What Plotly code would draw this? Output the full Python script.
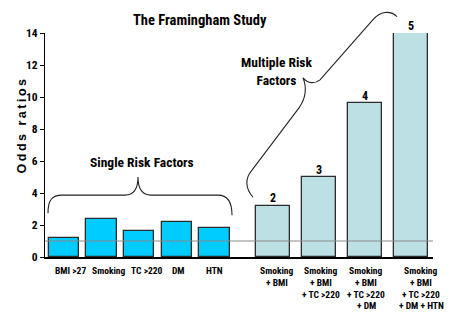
import plotly.graph_objects as go

# ---------------- data ----------------
single_labels = ["BMI >27", "Smoking", "TC >220", "DM", "HTN"]
single_values = [1.2, 2.4, 1.6, 2.2, 1.8]

multi_labels = [
    ["Smoking", "+ BMI"],
    ["Smoking", "+ BMI", "+ TC >220"],
    ["Smoking", "+ BMI", "+ TC >220", "+ DM"],
    ["Smoking", "+ BMI", "+ TC >220", "+ DM + HTN"],
]
multi_values = [3.2, 5.0, 9.6, 14.0]
multi_counts = ["2", "3", "4", "5"]

reference_value = 1.0
y_ticks = [0, 2, 4, 6, 8, 10, 12, 14]

title_text = "The Framingham Study"
y_title = "Odds ratios"
single_group_text = "Single Risk Factors"
multi_group_text = "Multiple Risk<br>Factors"

# ---------------- layout geometry (pixels) ----------------
W, H = 454, 313
L, R, T, B = 45, 21, 33.3, 56.3
X0, X1 = 45, 433
plot_h = H - T - B

def px(x):
    return (x - X0) / (X1 - X0)

def py(y):
    return (H - B - y) / plot_h

single_x = [64 + 37.6 * i for i in range(len(single_values))]
single_label_x = [70.5, 108.5, 146.5, 178, 214]
multi_x = [272.5 + 46 * i for i in range(len(multi_values))]
multi_label_x = [277, 321, 366, 421]

FONT = "Roboto Condensed, Liberation Sans, Arial, sans-serif"

fig = go.Figure()
fig.add_trace(go.Bar(
    x=single_x, y=single_values, width=30.5,
    marker=dict(color="#00CCFF", line=dict(color="#2b2b2b", width=1.3)),
    hoverinfo="skip", showlegend=False,
))
fig.add_trace(go.Bar(
    x=multi_x, y=multi_values, width=34,
    marker=dict(color="#BCE0E4", line=dict(color="#2b2b2b", width=1.3)),
    hoverinfo="skip", showlegend=False,
))

shapes = []
shapes.append(dict(type="line", xref="x", yref="y", x0=X0, x1=X1,
                   y0=reference_value, y1=reference_value,
                   line=dict(color="#8a8a8a", width=1), layer="above"))

def to_path(cmds):
    out = []
    for c in cmds:
        if isinstance(c, str):
            out.append(c)
        else:
            out.append(f"{px(c[0]):.5f},{py(c[1]):.5f}")
    return " ".join(out)

single_brace = ["M", (48, 213), "C", (48, 200), (52, 195), (62, 195),
                "L", (125, 195), "C", (133, 195), (138, 190), (138, 177),
                "C", (138, 190), (143, 195), (151, 195),
                "L", (218, 195), "C", (228, 195), (232, 203), (232, 215)]
multi_brace = ["M", (253, 197), "C", (245, 188), (245, 178), (252, 170),
               "L", (299, 108), "C", (306, 98), (307, 88), (303, 78),
               "C", (308, 84), (315, 84), (320, 80),
               "L", (373, 20), "C", (380, 12), (390, 10), (397, 17)]
for p in (single_brace, multi_brace):
    shapes.append(dict(type="path", xref="paper", yref="paper", path=to_path(p),
                       line=dict(color="#222", width=1.1)))

annotations = []

def add_text(text, x, y, size, family=FONT, angle=0):
    annotations.append(dict(text=text, xref="paper", yref="paper",
                            x=px(x), y=py(y), xanchor="center", yanchor="middle",
                            showarrow=False, textangle=angle,
                            font=dict(family=family, size=size, color="black", weight="bold")))

add_text(title_text, 200, 21, 14.5)
add_text(single_group_text, 142, 162, 13.5)
add_text(multi_group_text, 276, 71.5, 13.5)
add_text("\u2009".join(y_title), 22, 126.5, 12.5,
         family="Liberation Sans, Arial, sans-serif", angle=-90)

# count labels above the multi-factor bars
for xv, yv, t in zip(multi_x, multi_values, multi_counts):
    annotations.append(dict(text=t, xref="x", yref="y", x=xv, y=yv,
                            xanchor="center", yanchor="bottom", yshift=-1.5,
                            showarrow=False,
                            font=dict(family=FONT, size=12, color="black", weight="bold")))

for lab, x in zip(single_labels, single_label_x):
    add_text(lab, x, 270.5, 9.5)
line_step = 11.6
for lines, x in zip(multi_labels, multi_label_x):
    for k, ln in enumerate(lines):
        add_text(ln, x, 270.5 + k * line_step, 9.5)

fig.update_layout(
    width=W, height=H,
    margin=dict(l=L, r=R, t=T, b=B),
    plot_bgcolor="white", paper_bgcolor="white",
    shapes=shapes, annotations=annotations,
    bargap=0,
    xaxis=dict(range=[X0, X1], showgrid=False, zeroline=False, showticklabels=False,
               ticks="", showline=True, linecolor="black", linewidth=1.5),
    yaxis=dict(range=[0, 14], tickvals=y_ticks, showgrid=False, zeroline=False,
               ticks="outside", ticklen=4, tickwidth=1, tickcolor="black",
               showline=True, linecolor="black", linewidth=1.2,
               tickfont=dict(family=FONT, size=11.5, color="black", weight="bold")),
)

fig.write_html("out.html", config={"displayModeBar": False},
               post_script="document.body.style.margin='0';")
